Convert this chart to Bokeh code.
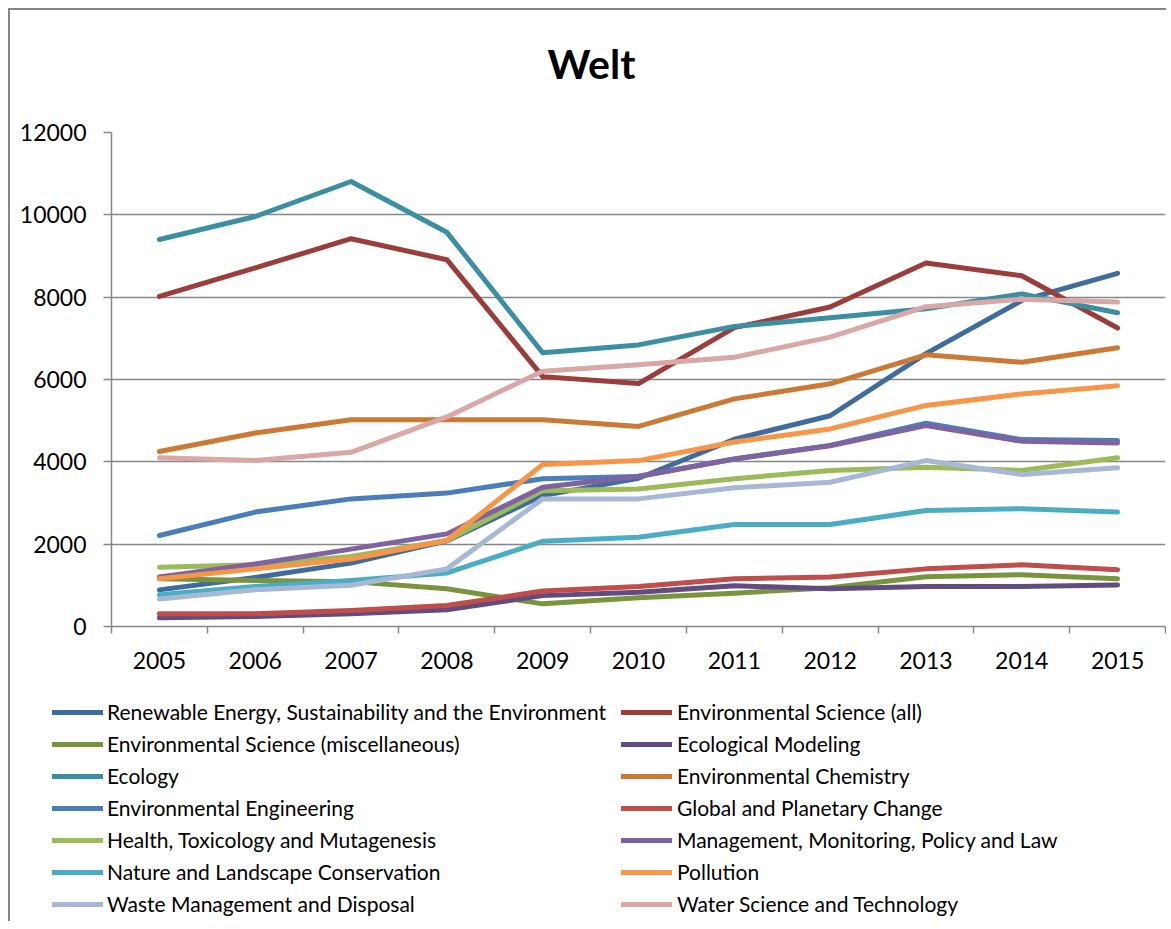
from bokeh.plotting import figure
from bokeh.layouts import column
from bokeh.models import Range1d, FixedTicker, Legend, LegendItem, Title
from bokeh.embed import file_html
from bokeh.resources import INLINE

years = [2005, 2006, 2007, 2008, 2009, 2010, 2011, 2012, 2013, 2014, 2015]

series_names = [
    "Renewable Energy, Sustainability and the Environment",
    "Environmental Science (all)",
    "Environmental Science (miscellaneous)",
    "Ecological Modeling",
    "Ecology",
    "Environmental Chemistry",
    "Environmental Engineering",
    "Global and Planetary Change",
    "Health, Toxicology and Mutagenesis",
    "Management, Monitoring, Policy and Law",
    "Nature and Landscape Conservation",
    "Pollution",
    "Waste Management and Disposal",
    "Water Science and Technology",
]

renewable = [890, 1190, 1540, 2080, 3180, 3600, 4550, 5120, 6630, 7920, 8580]
env_all = [8020, 8710, 9420, 8910, 6070, 5900, 7260, 7760, 8830, 8520, 7250]
env_misc = [1160, 1120, 1090, 915, 550, 700, 810, 940, 1210, 1260, 1160]
eco_model = [210, 245, 310, 405, 750, 830, 990, 920, 970, 970, 1010]
ecology = [9400, 9960, 10810, 9575, 6650, 6840, 7290, 7500, 7720, 8080, 7620]
env_chem = [4250, 4700, 5020, 5020, 5020, 4860, 5530, 5895, 6600, 6420, 6770]
env_eng = [2210, 2780, 3100, 3240, 3590, 3645, 4070, 4400, 4940, 4540, 4520]
global_change = [310, 310, 390, 510, 860, 970, 1160, 1200, 1400, 1500, 1380]
health = [1440, 1500, 1700, 2090, 3300, 3340, 3590, 3790, 3870, 3790, 4100]
management = [1200, 1520, 1880, 2250, 3380, 3650, 4070, 4390, 4880, 4500, 4460]
nature = [770, 970, 1120, 1300, 2070, 2170, 2480, 2480, 2820, 2860, 2780]
pollution = [1160, 1400, 1640, 2090, 3935, 4030, 4480, 4800, 5370, 5650, 5850]
waste = [670, 890, 1000, 1400, 3100, 3100, 3370, 3505, 4030, 3690, 3855]
water = [4100, 4030, 4230, 5090, 6200, 6360, 6540, 7030, 7770, 7950, 7880]

all_values = [renewable, env_all, env_misc, eco_model, ecology, env_chem, env_eng,
              global_change, health, management, nature, pollution, waste, water]

colors = ["#3F6B9F", "#9B3D3A", "#78943D", "#624B7F", "#3A8FA3", "#CC7A33", "#4A7EBB",
          "#BF4D4A", "#9BBB59", "#7F63A1", "#4BACC6", "#F79646", "#A7B8D7", "#D9A7A6"]

y_ticks = [0, 2000, 4000, 6000, 8000, 10000, 12000]

FONT = "Lato"
GRAY = "#868686"
LINE_W = 5

# ---------------- main chart ----------------
p = figure(width=1156, height=676, output_backend="svg", toolbar_location=None,
           x_range=Range1d(years[0] - 0.5, years[-1] + 0.5),
           y_range=Range1d(y_ticks[0], y_ticks[-1]),
           min_border_left=101, min_border_right=1, min_border_top=122,
           min_border_bottom=60)
p.title = None
p.outline_line_color = None
p.background_fill_color = "white"
p.border_fill_color = "white"

# spacer between title and plot area (closest to the frame)
p.add_layout(Title(text=" ", text_font_size="1px", standoff=42), "above")
p.add_layout(Title(text="Welt", text_font=FONT, text_font_size="41px",
                   text_font_style="bold", text_color="black",
                   align="left", offset=436, standoff=0), "above")

p.xaxis.ticker = FixedTicker(ticks=years, minor_ticks=[y - 0.5 for y in years] + [years[-1] + 0.5])
p.xaxis.major_tick_out = 0
p.xaxis.major_tick_in = 0
p.xaxis.minor_tick_out = 7
p.xaxis.minor_tick_in = 0
p.xaxis.minor_tick_line_color = GRAY
p.xaxis.minor_tick_line_width = 1.5
p.xaxis.axis_line_color = GRAY
p.xaxis.axis_line_width = 1.5
p.xaxis.major_label_text_font = FONT
p.xaxis.major_label_text_font_size = "23px"
p.xaxis.major_label_text_color = "black"
p.xaxis.major_label_standoff = 18

p.yaxis.ticker = FixedTicker(ticks=y_ticks, minor_ticks=[])
p.yaxis.major_tick_out = 8
p.yaxis.major_tick_in = 0
p.yaxis.major_tick_line_color = GRAY
p.yaxis.major_tick_line_width = 1.5
p.yaxis.axis_line_color = GRAY
p.yaxis.axis_line_width = 1.5
p.yaxis.major_label_text_font = FONT
p.yaxis.major_label_text_font_size = "23px"
p.yaxis.major_label_text_color = "black"
p.yaxis.major_label_standoff = 17

p.xgrid.grid_line_color = None
p.ygrid.grid_line_color = GRAY
p.ygrid.grid_line_width = 1.5
p.ygrid.ticker = FixedTicker(ticks=y_ticks)

for name, vals, c in zip(series_names, all_values, colors):
    p.line(years, vals, line_color=c, line_width=LINE_W, line_cap="round", line_join="round")

# ---------------- legend strip ----------------
lp = figure(width=1156, height=235, output_backend="svg", toolbar_location=None,
            x_range=Range1d(0, 1), y_range=Range1d(0, 1),
            x_axis_type=None, y_axis_type=None,
            min_border_left=0, min_border_right=0, min_border_top=0, min_border_bottom=0)
lp.title = None
lp.outline_line_color = None
lp.grid.visible = False
lp.background_fill_color = "white"
lp.border_fill_color = "white"
if "frame_align" in lp.properties():
    lp.frame_align = False
    p.frame_align = False

legend_renderers = []
for name, vals, c in zip(series_names, all_values, colors):
    r = lp.line(years, vals, line_color=c, line_width=LINE_W, line_cap="round", visible=False)
    legend_renderers.append(r)

def make_legend(idx, loc, standoff):
    lg = Legend(items=[LegendItem(label=series_names[i], renderers=[legend_renderers[i]]) for i in idx],
                location=loc, orientation="vertical")
    lg.glyph_width = 51
    lg.glyph_height = 20
    lg.label_height = 20
    lg.label_standoff = standoff
    lg.spacing = 7
    lg.padding = 0
    lg.margin = 0
    lg.border_line_color = None
    lg.background_fill_alpha = 0
    lg.label_text_font = FONT
    lg.label_text_font_size = "21px"
    lg.label_text_color = "black"
    return lg

lp.add_layout(make_legend(list(range(0, 14, 2)), (42, 5), 4))
lp.add_layout(make_legend(list(range(1, 14, 2)), (611, 5), 5))

page = column(p, lp, spacing=0,
              styles={"border-left": "2px solid #868686", "border-top": "2px solid #868686",
                      "margin-left": "8px", "margin-top": "8px"})

open("out.html", "w").write(file_html(page, INLINE))
